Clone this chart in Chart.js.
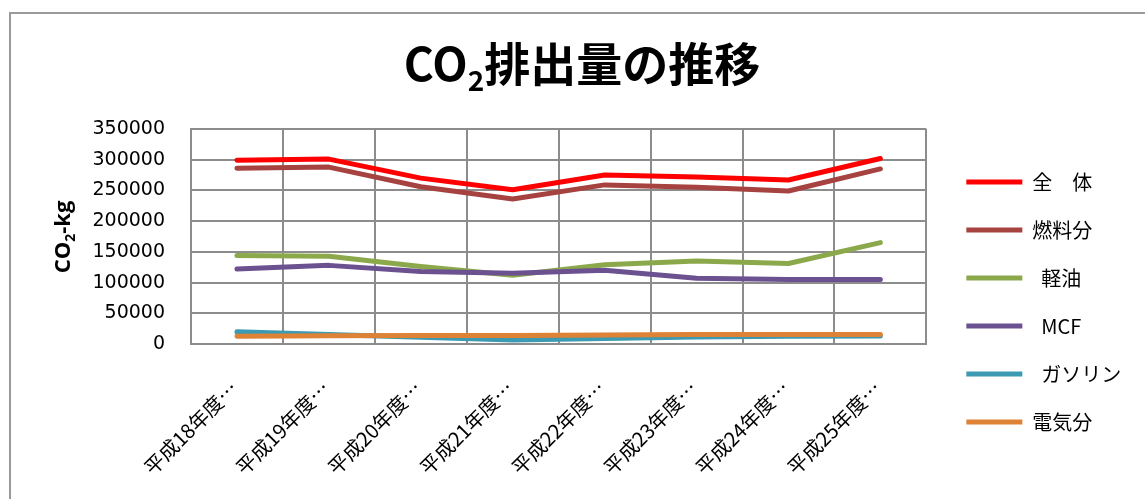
<!DOCTYPE html>
<html>
<head>
<meta charset="utf-8">
<script src="https://cdn.jsdelivr.net/npm/chart.js@4"></script>
<style>
html,body{margin:0;padding:0;background:#fff;}
#wrap{width:1145px;height:499px;position:relative;}
</style>
</head>
<body>
<div id="wrap"><canvas id="c" width="1145" height="499"></canvas></div>
<script>
const categories = ["平成18年度…","平成19年度…","平成20年度…","平成21年度…","平成22年度…","平成23年度…","平成24年度…","平成25年度…"];
const seriesNames = ["全　体","燃料分","  軽油","  MCF","  ガソリン","電気分"];
const zentai   = [299000, 301000, 270000, 251000, 275000, 272000, 267000, 302000];
const nenryo   = [286000, 288000, 256000, 236000, 259000, 255000, 249000, 285000];
const keiyu    = [144000, 143000, 126000, 112000, 129000, 135000, 131000, 165000];
const mcf      = [122000, 128000, 118000, 115000, 120000, 107000, 105000, 105000];
const gasoline = [20000, 15500, 11000, 6500, 9000, 11500, 12500, 13000];
const denki    = [12500, 13500, 14000, 14000, 14500, 15500, 15500, 15500];
const yTicks   = [0, 50000, 100000, 150000, 200000, 250000, 300000, 350000];
const colors   = ["#FF0000","#A6423F","#8BA94B","#6C5190","#3C9AB2","#DE8236"];
const seriesValues = [zentai, nenryo, keiyu, mcf, gasoline, denki];

const decor = {
  id: 'decor',
  beforeDraw(chart) {
    const ctx = chart.ctx;
    ctx.save();
    ctx.fillStyle = '#fff';
    ctx.fillRect(0, 0, chart.width, chart.height);
    ctx.strokeStyle = '#9a9a9a';
    ctx.lineWidth = 2;
    ctx.strokeRect(10, 13, chart.width + 20, chart.height + 20);
    ctx.restore();
  },
  afterDraw(chart) {
    const ctx = chart.ctx;
    ctx.save();
    ctx.fillStyle = '#000';
    ctx.textBaseline = 'alphabetic';
    const big = 'bold 46px "Noto Sans CJK JP", "Noto Sans", sans-serif';
    const sub = 'bold 28px "Noto Sans CJK JP", "Noto Sans", sans-serif';
    const p1 = 'CO', p2 = '2', p3 = '排出量の推移';
    ctx.font = big; const w1 = ctx.measureText(p1).width; const w3 = ctx.measureText(p3).width;
    ctx.font = sub; const w2 = ctx.measureText(p2).width;
    const total = w1 + w2 + w3;
    let x = 582 - total / 2;
    const base = 81;
    ctx.font = big; ctx.fillText(p1, x, base); x += w1;
    ctx.font = sub; ctx.fillText(p2, x, base + 10); x += w2;
    ctx.font = big; ctx.fillText(p3, x, base);
    ctx.translate(70, 237);
    ctx.rotate(-Math.PI / 2);
    const yb = 'bold 22px "Open Sans", "Noto Sans", sans-serif';
    const ys = 'bold 14px "Open Sans", "Noto Sans", sans-serif';
    const q1 = 'CO', q2 = '2', q3 = '-kg';
    ctx.font = yb; const a1 = ctx.measureText(q1).width; const a3 = ctx.measureText(q3).width;
    ctx.font = ys; const a2 = ctx.measureText(q2).width;
    let yx = -(a1 + a2 + a3) / 2;
    ctx.font = yb; ctx.fillText(q1, yx, 0); yx += a1;
    ctx.font = ys; ctx.fillText(q2, yx, 5); yx += a2;
    ctx.font = yb; ctx.fillText(q3, yx, 0);
    ctx.restore();
  }
};

const datasets = seriesNames.map((name, i) => ({
  label: name,
  data: seriesValues[i],
  borderColor: colors[i],
  backgroundColor: colors[i],
  borderWidth: 5,
  borderCapStyle: 'round',
  borderJoinStyle: 'round',
  pointRadius: 0,
  pointHoverRadius: 0,
  tension: 0,
  fill: false,
  order: -i
}));

new Chart(document.getElementById('c'), {
  type: 'line',
  data: { labels: categories, datasets },
  plugins: [decor],
  options: {
    responsive: false,
    animation: false,
    devicePixelRatio: 1,
    layout: { padding: { top: 129, bottom: 24, left: 0, right: 19 } },
    plugins: {
      title: { display: false },
      tooltip: { enabled: false },
      legend: {
        position: 'right',
        align: 'center',
        labels: {
          usePointStyle: true,
          pointStyle: 'line',
          pointStyleWidth: 56,
          boxWidth: 56,
          padding: 28,
          color: '#000',
          font: { size: 20, family: '"Noto Sans CJK JP", sans-serif' },
          sort: (a, b) => a.datasetIndex - b.datasetIndex
        }
      }
    },
    scales: {
      x: {
        offset: true,
        grid: { display: true, offset: true, color: '#8c8c8c', lineWidth: 2, drawTicks: false },
        border: { display: true, color: '#8c8c8c', width: 2 },
        ticks: {
          autoSkip: false,
          maxRotation: 45,
          minRotation: 45,
          padding: 32,
          labelOffset: -3,
          color: '#000',
          font: { size: 20, family: '"Noto Sans CJK JP", sans-serif' }
        },
        afterFit(s) { s.height = 131; }
      },
      y: {
        min: 0,
        max: 350000,
        afterBuildTicks(s) { s.ticks = yTicks.map(v => ({ value: v })); },
        grid: { color: '#8c8c8c', lineWidth: 2, drawTicks: false },
        border: { display: true, color: '#8c8c8c', width: 2 },
        ticks: {
          padding: 26,
          color: '#000',
          font: { size: 19, family: '"DejaVu Sans", sans-serif' },
          callback: v => String(v)
        },
        afterFit(s) { s.width = 191; }
      },
      gap: {
        type: 'linear',
        position: 'right',
        display: true,
        grid: { display: false },
        border: { display: false },
        ticks: { display: false },
        afterFit(s) { s.width = 12; }
      }
    }
  }
});
</script>
</body>
</html>
